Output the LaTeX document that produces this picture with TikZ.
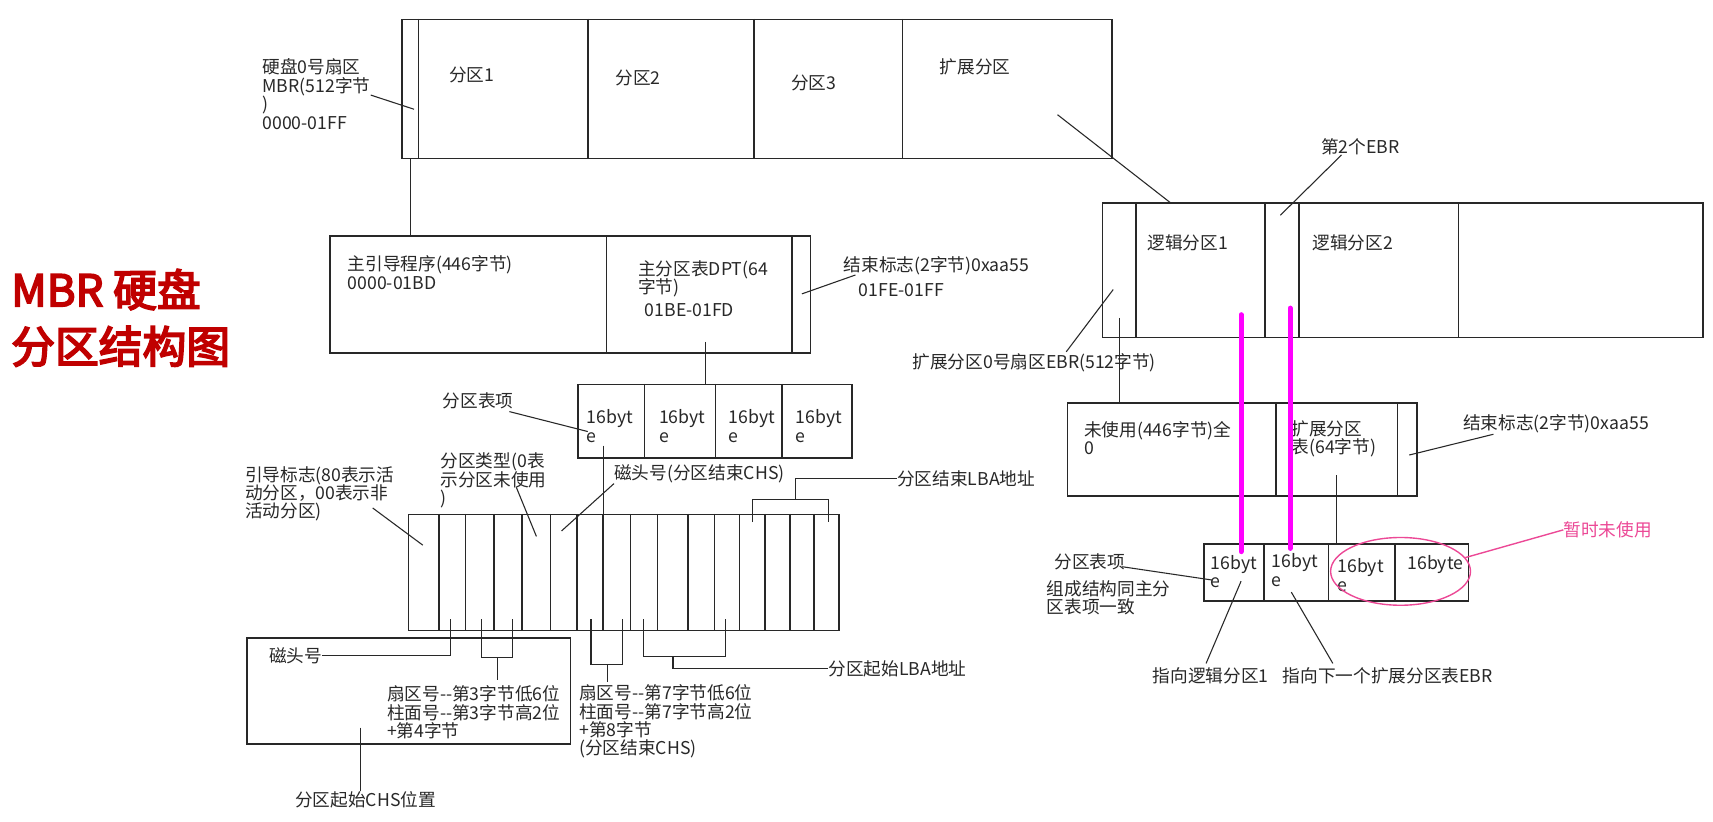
\documentclass[tikz,border=0pt]{standalone}
\usepackage{fontspec}
\usepackage{xcolor}
\usepackage{tikz}
\usetikzlibrary{shapes,positioning,fit,backgrounds}

\setmainfont{Noto Sans CJK SC}
\newfontfamily\headfont{Noto Sans CJK SC}[FakeBold=4]

\definecolor{ink}{RGB}{40,40,40}
\definecolor{headred}{RGB}{192,0,0}
\definecolor{ringpink}{RGB}{236,72,150}
\definecolor{linkmag}{RGB}{255,0,255}

\begin{document}
\begin{tikzpicture}[
    x=0.025cm, y=-0.025cm,
    box/.style={draw=ink, line width=1pt, inner sep=0pt},
    bar/.style={draw=ink, line width=1pt},
    lead/.style={draw=ink, line width=0.7pt},
    lbl/.style={anchor=west, inner sep=0pt, align=left, text=ink, font=\fontsize{11.5}{12}\selectfont},
    headline/.style={anchor=west, inner sep=0pt, text=headred, font=\headfont\fontsize{28.5}{30}\selectfont},
    maglink/.style={draw=linkmag, line width=3.2pt, line cap=round},
    pinkring/.style={draw=ringpink, line width=0.9pt}
]
\fill[white] (0,0) rectangle (1568,752);
\useasboundingbox (0,0) rectangle (1568,752);

% Title
\node[headline] (head1) at (10,265) {MBR 硬盘};
\node[headline] (head2) at (10,317) {分区结构图};

% Whole disk
\node[box, fit={(368,18) (1018,145)}] (disk) {};
\foreach \x in {383,538,690,826} \draw[bar] (\x,0 |- disk.north) -- (\x,0 |- disk.south);
\node[lbl] (part1) at (411,69) {分区1};
\node[lbl] (part2) at (563,71) {分区2};
\node[lbl] (part3) at (724,76) {分区3};
\node[lbl] (extpart) at (860,61) {扩展分区};
\node[lbl] (mbrlbl) at (240,86) {硬盘0号扇区\\MBR(512字节\\)\\0000-01FF};
\coordinate (mbrtip) at (379,100);
\draw[lead] ([shift={(0,1)}]mbrlbl.east) -- (mbrtip);

% MBR sector
\node[box, fit={(302,216) (742,323)}] (mbr) {};
\foreach \x in {555,725} \draw[bar] (\x,0 |- mbr.north) -- (\x,0 |- mbr.south);
\draw[lead] (376,0 |- disk.south) -- (376,0 |- mbr.north);
\node[lbl] (boot) at (318,249.5) {主引导程序(446字节)\\0000-01BD};
\node[lbl] (dpt) at (584,255) {主分区表DPT(64\\字节)};
\node[lbl] (dptaddr) at (590,284) {01BE-01FD};
\node[lbl] (sig) at (772,243) {结束标志(2字节)0xaa55};
\node[lbl] (sigaddr) at (786,266) {01FE-01FF};
\coordinate (sigtip) at (734,269);
\draw[lead] ([shift={(11,0)}]sig.south west) -- (sigtip);

% Partition table
\node[box, fit={(529,352) (780,419)}] (dpttab) {};
\foreach \x in {590,655,716} \draw[bar] (\x,0 |- dpttab.north) -- (\x,0 |- dpttab.south);
\coordinate (dptfoot) at (646,313);
\draw[lead] (dptfoot) -- (646,0 |- dpttab.north);
\foreach \x/\n in {537/1,603/2,667/3,728/4} \node[lbl] (dent\n) at (\x,390) {16byt\\e};
\node[lbl] (entlbl) at (405,367) {分区表项};
\coordinate (enttip) at (538,395);
\draw[lead] ([shift={(-4,2)}]entlbl.south east) -- (enttip);

% Table entry, 16 bytes
\node[box, fit={(374,471) (768,577)}] (grid) {};
\foreach \x in {402,426,452,478,504,528,552,577,602,630,654,677,700,723,745}
    \draw[bar] (\x,0 |- grid.north) -- (\x,0 |- grid.south);
\coordinate (dptdrop) at (552,408);
\draw[lead] (dptdrop) -- (552,0 |- grid.north);

\node[lbl] (bootflag) at (224,452) {引导标志(80表示活\\动分区，00表示非\\活动分区)};
\coordinate (bootflagtip) at (387,499);
\draw[lead] ([shift={(-20,13)}]bootflag.east) -- (bootflagtip);
\node[lbl] (ptype) at (403,440) {分区类型(0表\\示分区未使用\\)};
\coordinate (ptypetip) at (491,491);
\draw[lead] ([shift={(-28,6)}]ptype.east) -- (ptypetip);
\node[lbl] (endhead) at (562,434) {磁头号(分区结束CHS)};
\coordinate (endheadtip) at (514,486);
\draw[lead] (endhead.south west) -- (endheadtip);
\node[lbl] (endlba) at (821,438) {分区结束LBA地址};
\draw[lead] (endlba.west) -| (728,457);
\draw[lead] (689,478) |- (758,457) -- (758,478);

% Start CHS
\node[box, fit={(226,584) (522,681)}] (chsbox) {};
\node[lbl] (starthead) at (246,600) {磁头号};
\draw[lead] (starthead.east) -| (412,567);
\draw[lead] (441,567) |- (469,602) -- (469,567);
\draw[lead] (455,602) -- (455,622);
\node[lbl] (startsec) at (354,652) {扇区号-{}-第3字节低6位\\柱面号-{}-第3字节高2位\\+第4字节};
\node[lbl] (startchs) at (270,732) {分区起始CHS位置};
\coordinate (chsfoot) at (330,666);
\draw[lead] (chsfoot) -- (330,0 |- startchs.north);

% End CHS
\draw[lead] (541,567) |- (570,608) -- (570,567);
\draw[lead] (556,608) -- (556,624);
\node[lbl] (endsec) at (530,660.5) {扇区号-{}-第7字节低6位\\柱面号-{}-第7字节高2位\\+第8字节\\(分区结束CHS)};

% Start LBA
\node[lbl] (startlba) at (758,612) {分区起始LBA地址};
\draw[lead] (589,567) |- (664,601) -- (664,567);
\draw[lead] (616,601) |- (startlba.west);

% Extended partition chain
\node[box, fit={(1009,186) (1559,309)}] (chain) {};
\foreach \x in {1040,1158,1189,1335} \draw[bar] (\x,0 |- chain.north) -- (\x,0 |- chain.south);
\node[lbl] (logic1) at (1050,222) {逻辑分区1};
\node[lbl] (logic2) at (1201,222) {逻辑分区2};
\coordinate (extfoot) at (968,105);
\draw[lead] (extfoot) -- (1071,0 |- chain.north);
\node[lbl] (ebr2) at (1209,134) {第2个EBR};
\coordinate (ebr2tip) at (1172,197);
\draw[lead] ([shift={(19,0)}]ebr2.south west) -- (ebr2tip);
\node[lbl] (ebr0) at (835,332) {扩展分区0号扇区EBR(512字节)};
\coordinate (ebr0tip) at (1019,265);
\draw[lead] ([shift={(141,-10)}]ebr0.west) -- (ebr0tip);

% EBR sector
\node[box, fit={(977,369) (1297,454)}] (ebr) {};
\foreach \x in {1168,1279} \draw[bar] (\x,0 |- ebr.north) -- (\x,0 |- ebr.south);
\coordinate (ebrdrop) at (1025,291);
\draw[lead] (ebrdrop) -- (1025,0 |- ebr.north);
\node[lbl] (unused) at (992,401) {未使用(446字节)全\\0};
\node[lbl] (ebrtab) at (1182,401.5) {扩展分区\\表(64字节)};
\node[lbl] (ebrsig) at (1339,387.5) {结束标志(2字节)0xaa55};
\coordinate (ebrsigtip) at (1290,416.5);
\draw[lead] ([shift={(28,10)}]ebrsig.west) -- (ebrsigtip);

% EBR partition table
\node[box, fit={(1102,498) (1344,550)}] (etab) {};
\foreach \x in {1157,1216,1277} \draw[bar] (\x,0 |- etab.north) -- (\x,0 |- etab.south);
\coordinate (ebrtabfoot) at (1223,435);
\draw[lead] (ebrtabfoot) -- (1223,0 |- etab.north);
\node[lbl] (ecell1) at (1108,523) {16byt\\e};
\node[lbl] (ecell2) at (1164,522) {16byt\\e};
\node[lbl] (ecell3) at (1224,526.5) {16byt\\e};
\node[lbl] (ecell4) at (1288,517) {16byte};

\node[pinkring, ellipse, minimum width=3.2cm, minimum height=1.55cm, inner sep=0pt] (ring) at (1282,523) {};
\node[lbl, text=ringpink] (later) at (1431,485) {暂时未使用};
\draw[pinkring] (ring.12) -- (later.west);

% Links into the chain
\coordinate (lnk1a) at (1136,288);
\coordinate (lnk1b) at (1136,505);
\coordinate (lnk2a) at (1181,282);
\coordinate (lnk2b) at (1181,502);
\draw[maglink] (lnk1a) -- (lnk1b);
\draw[maglink] (lnk2a) -- (lnk2b);

\node[lbl] (etablbl) at (965,514) {分区表项};
\coordinate (etabtip) at (1110,531);
\draw[lead] ([shift={(-3,-3)}]etablbl.south east) -- (etabtip);
\node[lbl] (same) at (958,547) {组成结构同主分\\区表项一致};
\node[lbl] (tolog) at (1055,619) {指向逻辑分区1};
\coordinate (tologtip) at (1136,532);
\draw[lead] ([shift={(49,-4)}]tolog.north west) -- (tologtip);
\node[lbl] (tonext) at (1174,619) {指向下一个扩展分区表EBR};
\coordinate (tonexttip) at (1182,542);
\draw[lead] ([shift={(46,-4)}]tonext.north west) -- (tonexttip);

\end{tikzpicture}
\end{document}
